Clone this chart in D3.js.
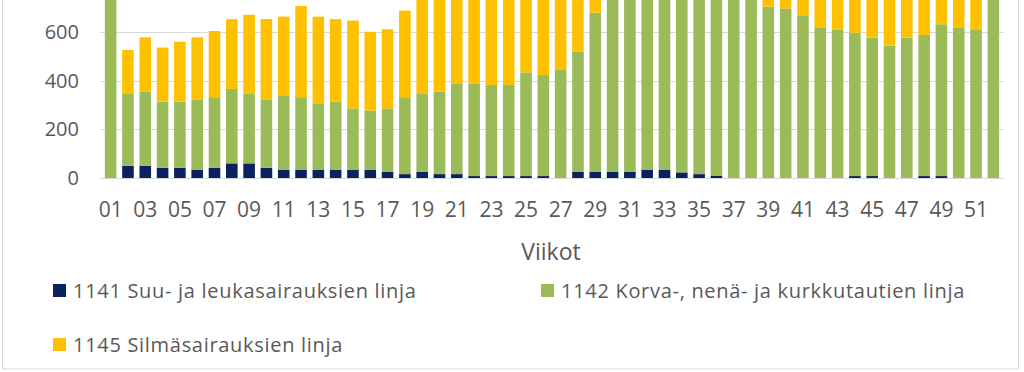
<!DOCTYPE html>
<html>
<head>
<meta charset="utf-8">
<script src="https://cdn.jsdelivr.net/npm/d3@7"></script>
<style>
  body { margin: 0; background: #fff; }
  svg { display: block; font-family: "Open Sans", sans-serif; }
</style>
</head>
<body>
<div id="chart"></div>
<script>
// weeks 01..52
const weeks = d3.range(1, 53).map(d => d < 10 ? "0" + d : "" + d);

// 1141 Suu- ja leukasairauksien linja
const suu = [0, 50, 50, 42, 42, 33, 42, 60, 60, 42, 33, 33, 33, 33, 33, 33, 26, 16, 26, 16,
  16, 8, 8, 8, 8, 8, 0, 26, 26, 26, 26, 33, 33, 23, 16, 10, 0, 0, 0, 0,
  0, 0, 0, 8, 8, 0, 0, 8, 8, 0, 0, 0];
// 1142 Korva-, nenä- ja kurkkutautien linja
const korva = [790, 298, 305, 272, 272, 290, 290, 306, 288, 281, 304, 299, 271, 281, 253, 244, 260, 316, 322, 339,
  373, 381, 374, 374, 426, 415, 444, 493, 653, 760, 770, 765, 770, 775, 780, 770, 790, 800, 704, 697,
  666, 619, 611, 589, 569, 544, 577, 580, 624, 619, 611, 790];
// 1145 Silmäsairauksien linja
const silma = [60, 178, 223, 222, 246, 255, 272, 287, 323, 330, 326, 375, 359, 339, 361, 324, 325, 356, 400, 400,
  380, 370, 390, 380, 330, 340, 320, 250, 90, 40, 30, 40, 40, 30, 30, 40, 30, 30, 90, 100,
  130, 170, 180, 200, 220, 250, 210, 200, 170, 180, 190, 40];

const series = [
  {name: "1141 Suu- ja leukasairauksien linja", values: suu, color: "#0b2160"},
  {name: "1142 Korva-, nenä- ja kurkkutautien linja", values: korva, color: "#9bbb59"},
  {name: "1145 Silmäsairauksien linja", values: silma, color: "#ffc000"}
];
const yTicks = [0, 200, 400, 600];

const width = 1024, height = 372;

const rows = weeks.map((w, i) => ({week: w, s0: suu[i], s1: korva[i], s2: silma[i]}));
const stack = d3.stack().keys(["s0", "s1", "s2"])(rows);

const x = d3.scaleBand()
  .domain(weeks)
  .range([102, 1002])
  .paddingInner(0.33)
  .paddingOuter(0.165);

const y = d3.scaleLinear()
  .domain([0, 600])
  .range([178, 32]);

const svg = d3.select('#chart')
  .append('svg')
  .attr('width', width)
  .attr('height', height);

// frame
svg.append('rect')
  .attr('x', 2.5).attr('y', -5)
  .attr('width', 1016).attr('height', 374)
  .attr('fill', 'none')
  .attr('stroke', '#d9d9d9');

// gridlines
svg.append('g')
  .selectAll('line')
  .data(yTicks)
  .enter()
  .append('line')
    .attr('x1', 100).attr('x2', 1004)
    .attr('y1', d => Math.round(y(d)) + 0.5)
    .attr('y2', d => Math.round(y(d)) + 0.5)
    .attr('stroke', '#d9d9d9')
    .attr('stroke-width', 1);

// bars
svg.append('g')
  .selectAll('g')
  .data(stack)
  .enter()
  .append('g')
    .attr('fill', (d, i) => series[i].color)
  .selectAll('rect')
  .data(d => d)
  .enter()
  .append('rect')
    .attr('x', d => x(d.data.week))
    .attr('width', x.bandwidth())
    .attr('y', d => y(d[1]))
    .attr('height', d => y(d[0]) - y(d[1]));

// y axis labels
const yAxis = d3.axisLeft(y).tickValues(yTicks).tickSize(0).tickPadding(0);
svg.append('g')
  .attr('transform', 'translate(79,0)')
  .call(yAxis)
  .call(g => g.select('.domain').remove())
  .selectAll('text')
    .attr('font-size', 20)
    .attr('font-family', '"Open Sans", sans-serif')
    .attr('fill', '#595959');

// x axis labels (odd weeks)
const xAxis = d3.axisBottom(x)
  .tickValues(weeks.filter((w, i) => i % 2 === 0))
  .tickSize(0).tickPadding(0);
svg.append('g')
  .attr('transform', 'translate(0,202)')
  .call(xAxis)
  .call(g => g.select('.domain').remove())
  .selectAll('text')
    .attr('font-size', 21)
    .attr('font-family', '"Open Sans", sans-serif')
    .attr('fill', '#595959');

svg.append('text')
  .attr('x', 551).attr('y', 260)
  .style('text-anchor', 'middle')
  .attr('font-size', 23)
  .attr('fill', '#595959')
  .text('Viikot');

// legend
const legendPos = [[53, 291], [541, 291], [53, 345]];
const legend = svg.append('g')
  .selectAll('g')
  .data(series)
  .enter()
  .append('g')
    .attr('transform', (d, i) => `translate(${legendPos[i][0]},${legendPos[i][1]})`);

legend.append('rect')
  .attr('x', 0).attr('y', -7)
  .attr('width', 13).attr('height', 13)
  .attr('fill', d => d.color);

legend.append('text')
  .attr('x', 20).attr('y', 7)
  .attr('font-size', 20)
  .attr('letter-spacing', 0.7)
  .attr('fill', '#595959')
  .text(d => d.name);
</script>
</body>
</html>
